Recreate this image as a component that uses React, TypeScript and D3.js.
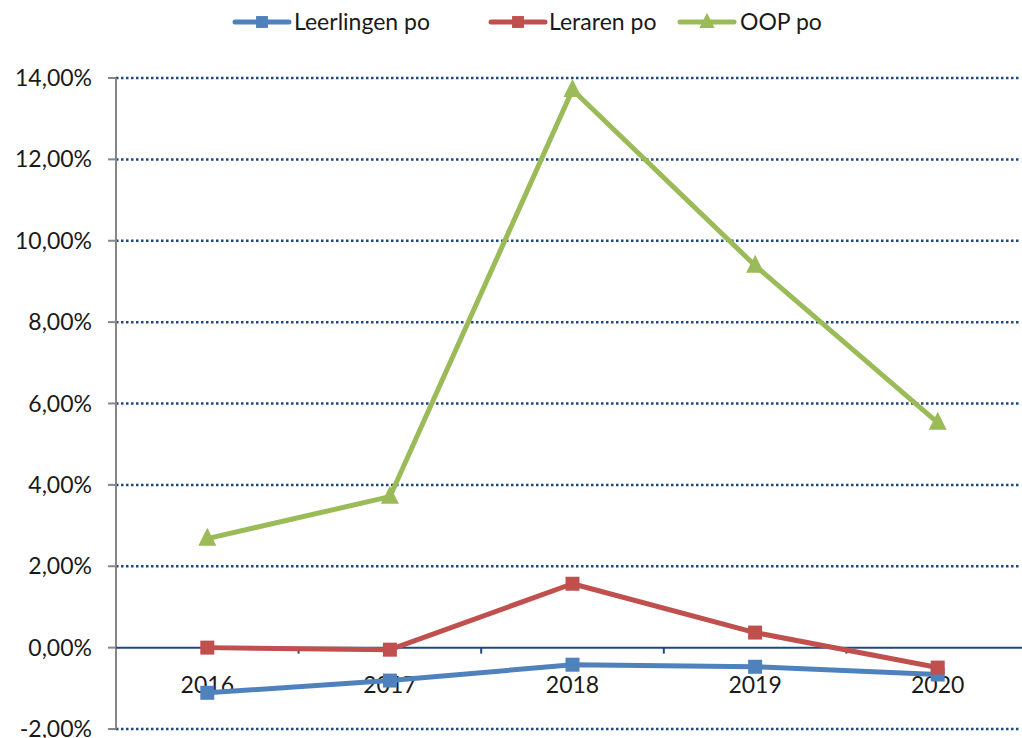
import * as d3 from "d3";

const years = ["2016", "2017", "2018", "2019", "2020"];
const leerlingen = [-1.11, -0.81, -0.42, -0.47, -0.66];
const leraren = [0.0, -0.05, 1.57, 0.37, -0.49];
const oop = [2.68, 3.71, 13.71, 9.39, 5.53];
const yTicks = [-2, 0, 2, 4, 6, 8, 10, 12, 14];

const series = [
  { name: "Leerlingen po", values: leerlingen, color: "#4F81BD", marker: "square" },
  { name: "Leraren po", values: leraren, color: "#C0504D", marker: "square" },
  { name: "OOP po", values: oop, color: "#9BBB59", marker: "triangle" },
];

const W = 1022;
const H = 738;
const left = 116;
const right = 1029;
const top = 78;
const bottom = 729;
const font = "Lato, 'Open Sans', sans-serif";
const fs = 23;

function Marker({ type, x, y, color, size = 1 }: { type: string; x: number; y: number; color: string; size?: number }) {
  if (type === "triangle") {
    const s = 18 * size;
    return (
      <path
        d={`M${x},${y - s * 0.6}L${x + s / 2},${y + s * 0.4}L${x - s / 2},${y + s * 0.4}Z`}
        fill={color}
      />
    );
  }
  const h = 7 * size;
  return <rect x={x - h} y={y - h} width={2 * h} height={2 * h} fill={color} />;
}

export default function App() {
  const x = d3.scalePoint<string>().domain(years).range([left, right]).padding(0.5);
  const band = (right - left) / years.length;
  const y = d3.scaleLinear().domain([-2, 14]).range([bottom, top]);
  const line = d3
    .line<number>()
    .x((_, i) => x(years[i]) as number)
    .y((d) => y(d));

  const legend = [
    { lx: 235, tx: 294 },
    { lx: 491, tx: 549 },
    { lx: 680, tx: 740 },
  ];

  return (
    <svg
      width={W}
      height={H}
      style={{ position: "absolute", left: 0, top: 0, background: "#fff" }}
      fontFamily={font}
    >
      {/* gridlines */}
      {yTicks
        .filter((t) => t !== 0)
        .map((t) => (
          <line
            key={t}
            x1={left}
            x2={W - 2}
            y1={y(t)}
            y2={y(t)}
            stroke="#1F497D"
            strokeWidth={2.5}
            strokeDasharray="2.5,2.5"
          />
        ))}
      {/* y axis */}
      <line x1={left} x2={left} y1={top} y2={bottom} stroke="#868686" strokeWidth={2} />
      {yTicks.map((t) => (
        <g key={t}>
          <line x1={left - 8} x2={left} y1={y(t)} y2={y(t)} stroke="#868686" strokeWidth={2} />
          <text x={92} y={y(t)} dy="0.35em" textAnchor="end" fontSize={fs} fill="#1a1a1a">
            {t.toFixed(2).replace(".", ",") + "%"}
          </text>
        </g>
      ))}
      {/* zero axis */}
      <line x1={left} x2={W} y1={y(0)} y2={y(0)} stroke="#1F497D" strokeWidth={2} />
      {years.map((yr, i) => (
        <line
          key={yr}
          x1={left + band * (i + 1)}
          x2={left + band * (i + 1)}
          y1={y(0)}
          y2={y(0) + 6}
          stroke="#1F497D"
          strokeWidth={2}
        />
      ))}
      {years.map((yr) => (
        <text key={yr} x={x(yr)} y={y(0) + 45} textAnchor="middle" fontSize={fs} fill="#1a1a1a">
          {yr}
        </text>
      ))}
      {/* series */}
      {series.map((s) => (
        <g key={s.name}>
          <path d={line(s.values) || ""} fill="none" stroke={s.color} strokeWidth={5} strokeLinejoin="round" />
          {s.values.map((v, i) => (
            <Marker key={i} type={s.marker} x={x(years[i]) as number} y={y(v)} color={s.color} />
          ))}
        </g>
      ))}
      {/* legend */}
      {series.map((s, i) => (
        <g key={s.name}>
          <line
            x1={legend[i].lx}
            x2={legend[i].lx + 54}
            y1={22}
            y2={22}
            stroke={s.color}
            strokeWidth={5}
            strokeLinecap="round"
          />
          <Marker type={s.marker} x={legend[i].lx + 27} y={22} color={s.color} size={0.85} />
          <text x={legend[i].tx} y={22} dy="0.35em" fontSize={fs} fill="#1a1a1a">
            {s.name}
          </text>
        </g>
      ))}
    </svg>
  );
}
